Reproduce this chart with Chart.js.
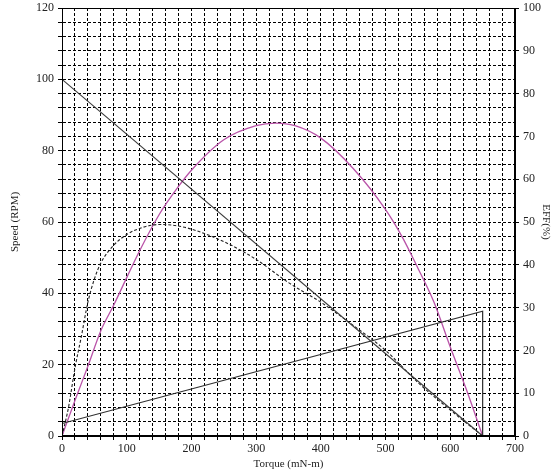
<!DOCTYPE html>
<html>
<head>
<meta charset="utf-8">
<script src="https://cdn.jsdelivr.net/npm/chart.js@4/dist/chart.umd.min.js"></script>
<style>
  body { margin: 0; background: #fff; }
  canvas { display: block; }
</style>
</head>
<body>
<canvas id="motorChart" width="557" height="476"></canvas>
<script>
// speed line (RPM)
const speedTorque = [0, 650];
const speedValues = [100, 0];

// current-like straight line, drops to zero at stall
const currentTorque = [0, 650, 650];
const currentValues = [3.5, 35, 0];

// dashed curve (left scale)
const powerTorque = [0, 10, 20, 30, 40, 50, 60, 80, 100, 125, 150, 175, 200, 250, 300, 350, 400, 450, 500, 550, 600, 650];
const powerValues = [0, 8, 19, 28, 37.5, 44, 48.5, 53.5, 56.5, 58.5, 59.3, 59, 58, 54.5, 49.5, 43, 37.5, 31, 24, 15, 7.3, 0];

// efficiency (right scale, %)
const effTorque = [0, 20, 40, 60, 80, 100, 120, 150, 180, 200, 250, 300, 330, 360, 400, 450, 500, 525, 550, 575, 600, 625, 650];
const effValues = [0, 8.3, 16.3, 24.6, 30.6, 37, 43.3, 51.7, 58.3, 62.1, 69.2, 72.5, 73.1, 72.5, 69.6, 62.5, 52.9, 46.7, 39.2, 31.2, 20.8, 10.8, 0];

const xLabels = [0, 100, 200, 300, 400, 500, 600, 700];
const speedLabels = [0, 20, 40, 60, 80, 100, 120];
const effLabels = [0, 10, 20, 30, 40, 50, 60, 70, 80, 90, 100];

function toPoints(xs, ys) {
    return xs.map((x, i) => ({ x: x, y: ys[i] }));
}

const serif = 'Liberation Serif, Times New Roman, serif';

const frame = {
    id: 'frame',
    afterDatasetsDraw(chart) {
        const a = chart.chartArea;
        const ctx = chart.ctx;
        ctx.save();
        ctx.strokeStyle = '#000';
        ctx.lineWidth = 1;
        ctx.strokeRect(a.left + 0.5, a.top + 0.5, a.right - a.left - 1, a.bottom - a.top - 1);
        ctx.restore();
    }
};

new Chart(document.getElementById('motorChart').getContext('2d'), {
    type: 'line',
    data: {
        datasets: [
            {
                data: toPoints(speedTorque, speedValues),
                borderColor: '#3a3a3a',
                borderWidth: 1.2,
                pointRadius: 0,
                yAxisID: 'y'
            },
            {
                data: toPoints(currentTorque, currentValues),
                borderColor: '#2e2e2e',
                borderWidth: 1.2,
                pointRadius: 0,
                yAxisID: 'y'
            },
            {
                data: toPoints(powerTorque, powerValues),
                borderColor: '#222',
                borderWidth: 1.1,
                borderDash: [3, 2],
                pointRadius: 0,
                cubicInterpolationMode: 'monotone',
                yAxisID: 'y'
            },
            {
                data: toPoints(effTorque, effValues),
                borderColor: '#b952a8',
                borderWidth: 1.3,
                pointRadius: 0,
                cubicInterpolationMode: 'monotone',
                yAxisID: 'y1'
            }
        ]
    },
    options: {
        responsive: false,
        animation: false,
        layout: { padding: { top: 8, left: 0, right: 0, bottom: 0 } },
        plugins: { legend: { display: false }, tooltip: { enabled: false } },
        scales: {
            x: {
                type: 'linear',
                min: 0,
                max: 700,
                afterFit: s => { s.height = 40; },
                ticks: {
                    stepSize: 20,
                    autoSkip: false,
                    maxRotation: 0,
                    padding: 2,
                    color: '#222',
                    font: { family: serif, size: 12 },
                    callback: v => xLabels.includes(v) ? v : ''
                },
                grid: { color: '#000', lineWidth: 1, tickLength: 4, tickColor: '#000', tickBorderDash: [] },
                border: { color: '#000', dash: [3, 2] },
                title: {
                    display: true,
                    text: 'Torque (mN-m)',
                    color: '#222',
                    padding: { top: 0, bottom: 5 },
                    font: { family: serif, size: 11 }
                }
            },
            y: {
                position: 'left',
                min: 0,
                max: 120,
                afterFit: s => { s.width = 62; s.paddingTop = 0; },
                ticks: {
                    stepSize: 4,
                    autoSkip: false,
                    padding: 4,
                    color: '#222',
                    font: { family: serif, size: 12 },
                    callback: v => speedLabels.includes(v) ? v : ''
                },
                grid: { color: '#000', lineWidth: 1, tickLength: 4, tickColor: '#000', tickBorderDash: [] },
                border: { color: '#000', dash: [3, 2] },
                title: {
                    display: true,
                    text: 'Speed (RPM)',
                    color: '#222',
                    padding: { top: 9, bottom: 0 },
                    font: { family: serif, size: 11 }
                }
            },
            y1: {
                position: 'right',
                min: 0,
                max: 100,
                afterFit: s => { s.width = 42; s.paddingTop = 0; },
                ticks: {
                    stepSize: 10,
                    autoSkip: false,
                    padding: 4,
                    color: '#222',
                    font: { family: serif, size: 12 },
                    callback: v => effLabels.includes(v) ? v : ''
                },
                grid: { drawOnChartArea: false, tickLength: 4, tickColor: '#000' },
                border: { color: '#000' },
                title: {
                    display: true,
                    text: 'EFF(%)',
                    color: '#222',
                    padding: { top: 5, bottom: 0 },
                    font: { family: serif, size: 11 }
                }
            }
        }
    },
    plugins: [frame]
});
</script>
</body>
</html>
